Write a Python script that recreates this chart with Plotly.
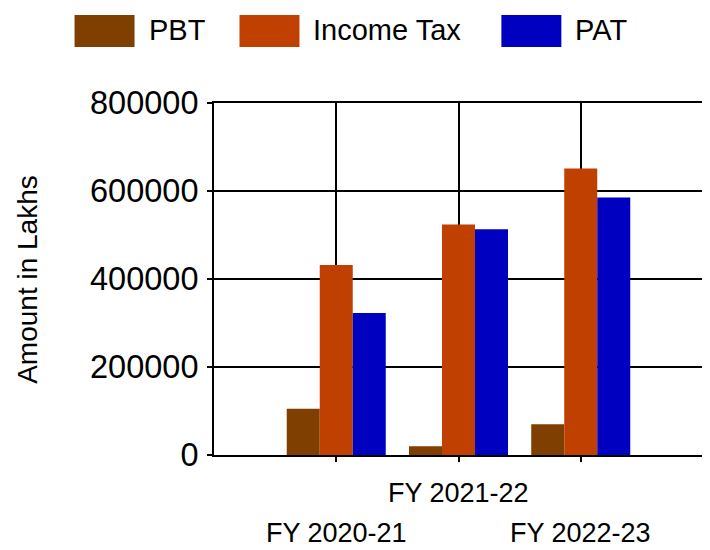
import plotly.graph_objects as go

# ---- data ----
categories = ["FY 2020-21", "FY 2021-22", "FY 2022-23"]
pbt = [105000, 20000, 70000]
income_tax = [432000, 524000, 651000]
pat = [323000, 513000, 585000]

series_names = ["PBT", "Income Tax", "PAT"]
series_colors = ["#7F3F00", "#BF4000", "#0000C0"]
y_ticks = [0, 200000, 400000, 600000, 800000]

# ---- layout geometry (pixels, in page coordinates) ----
W, H = 710, 550
OFF = 8  # page body margin shifts the figure by this much
PLOT_L, PLOT_R, PLOT_T, PLOT_B = 213.5, 702.7, 102.5, 455
ML = PLOT_L - OFF
MT = PLOT_T - OFF
MR = W - (PLOT_R - OFF)
MB = H - (PLOT_B - OFF)
PW = PLOT_R - PLOT_L
PH = PLOT_B - PLOT_T
FONT = "Liberation Sans, Arial, sans-serif"


def px_x(px):
    return (px - PLOT_L) / PW


def px_y(py):
    return (PLOT_B - py) / PH


x_pos = list(range(len(categories)))
fig = go.Figure()
for name, color, vals in zip(series_names, series_colors, [pbt, income_tax, pat]):
    fig.add_trace(go.Bar(
        x=x_pos, y=vals, name=name, marker=dict(color=color, line=dict(width=0)),
        showlegend=False,
    ))

fig.update_layout(
    width=W, height=H,
    margin=dict(l=ML, r=MR, t=MT, b=MB, pad=0),
    paper_bgcolor="white", plot_bgcolor="white",
    barmode="group", bargap=0.19, bargroupgap=0,
    font=dict(family=FONT, color="black"),
)

fig.update_xaxes(
    range=[-1, 3], tickvals=[0, 1, 2, 3], showticklabels=False,
    showgrid=True, gridcolor="black", gridwidth=2,
    showline=True, linecolor="black", linewidth=2, mirror=True,
    ticks="outside", ticklen=5, tickwidth=2, tickcolor="black",
    zeroline=False,
)
fig.update_yaxes(
    range=[0, 800000], tickvals=y_ticks, tickformat="d",
    tickfont=dict(size=32.5, family=FONT, color="black"),
    ticklabelstandoff=2,
    showgrid=True, gridcolor="black", gridwidth=2,
    showline=True, linecolor="black", linewidth=2, mirror=True,
    ticks="outside", ticklen=5, tickwidth=2, tickcolor="black",
    zeroline=False,
)

# staggered category labels
label_y = [533, 493, 533]
for xi, cat, ly in zip(x_pos, categories, label_y):
    fig.add_annotation(
        x=xi, xref="x", y=px_y(ly), yref="paper", text=cat, showarrow=False,
        xanchor="center", yanchor="middle",
        font=dict(size=27, family=FONT, color="black"),
    )

# y axis title
fig.add_annotation(
    x=px_x(27), xref="paper", y=px_y(279), yref="paper", text="Amount in Lakhs",
    showarrow=False, textangle=-90, xanchor="center", yanchor="middle",
    font=dict(size=28, family=FONT, color="black"),
)

# custom legend
sw_x = [74, 239, 501]
for name, color, sx in zip(series_names, series_colors, sw_x):
    fig.add_shape(
        type="rect", xref="paper", yref="paper",
        x0=px_x(sx), x1=px_x(sx + 60), y0=px_y(46.5), y1=px_y(14.5),
        fillcolor=color, line=dict(width=0),
    )
    fig.add_annotation(
        x=px_x(sx + 72), xref="paper", y=px_y(29), yref="paper", text=name,
        showarrow=False, xanchor="left", yanchor="middle",
        font=dict(size=29, family=FONT, color="black"),
    )

fig.write_html("out.html")
